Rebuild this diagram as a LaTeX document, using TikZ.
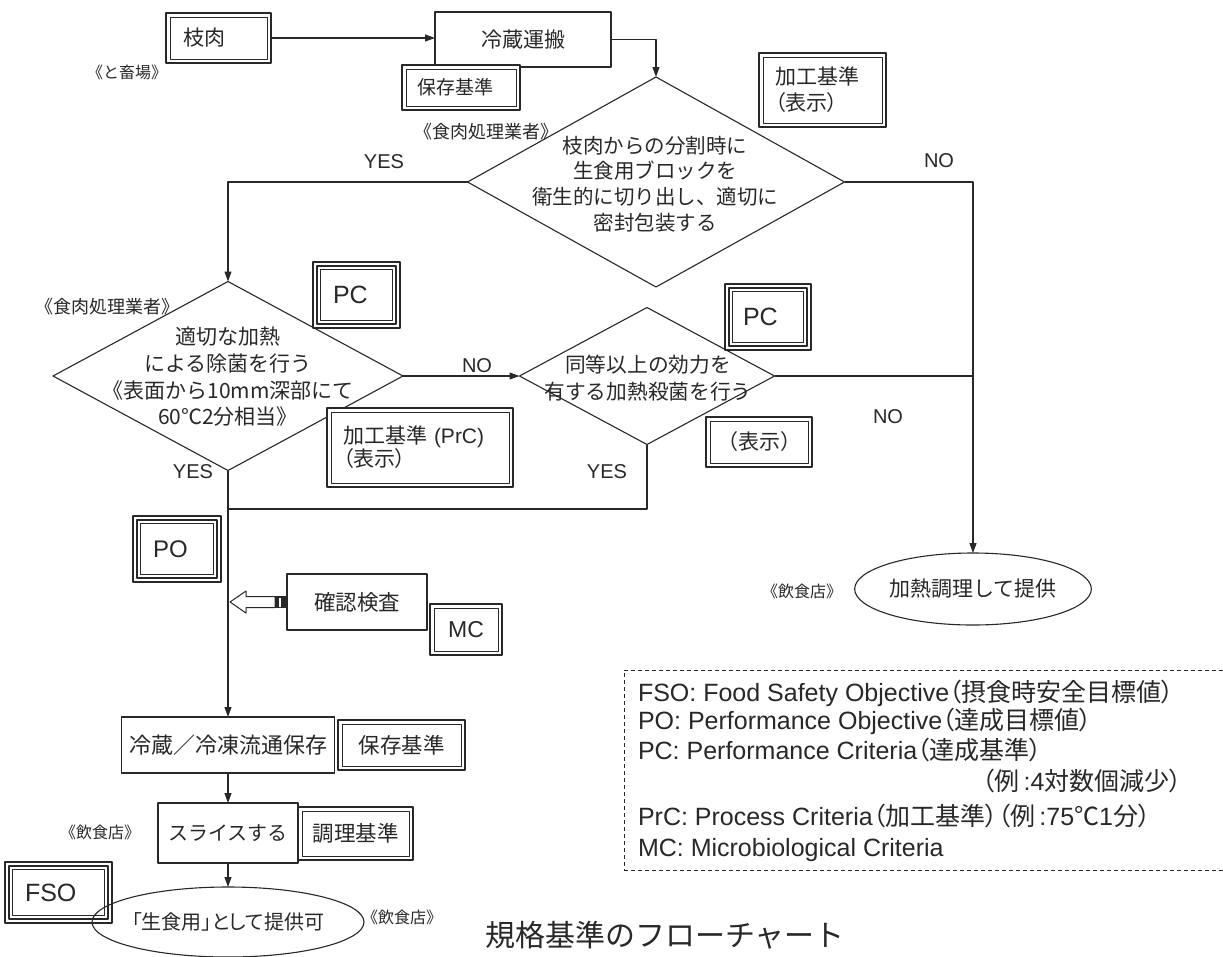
\documentclass[tikz,border=0pt]{standalone}
\usepackage{fontspec}
\setmainfont{Noto Sans CJK JP}
\newfontfamily\jpp{Noto Sans CJK JP}[RawFeature={+palt}]
\newfontfamily\lat{Liberation Sans}
\usetikzlibrary{shapes.geometric,arrows.meta,calc}
\definecolor{ink}{RGB}{40,40,40}
\newcommand{\fsz}[2]{\fontsize{#1pt}{#2pt}\selectfont}
\tikzset{
  every node/.style={text=ink},
  sbox/.style={draw=ink, line width=1.1pt, rectangle, inner sep=0pt, outer sep=0pt, fill=white, align=center},
  dbox/.style={draw=ink, line width=1.6pt, rectangle, inner sep=0pt, outer sep=0pt, fill=white, align=center,
    path picture={\draw[ink, line width=0.8pt] ([shift={(4pt,-4pt)}]path picture bounding box.north west) rectangle ([shift={(-4pt,4pt)}]path picture bounding box.south east);}},
  tbox/.style={draw=ink, line width=1.2pt, rectangle, inner sep=0pt, outer sep=0pt, fill=white, align=center,
    path picture={\draw[ink, line width=2.2pt] ([shift={(3.8pt,-3.8pt)}]path picture bounding box.north west) rectangle ([shift={(-3.8pt,3.8pt)}]path picture bounding box.south east);
                  \draw[ink, line width=0.8pt] ([shift={(7.5pt,-7.5pt)}]path picture bounding box.north west) rectangle ([shift={(-7.5pt,7.5pt)}]path picture bounding box.south east);}},
  dia/.style={draw=ink, line width=1.1pt, diamond, inner sep=0pt, outer sep=0pt},
  ell/.style={draw=ink, line width=1.1pt, ellipse, inner sep=0pt, outer sep=0pt},
  lbl/.style={inner sep=0pt, outer sep=0pt},
  place/.style={lbl, font=\fsz{16}{19}},
  conn/.style={draw=ink, line width=1.1pt},
  arr/.style={conn, -{Triangle[length=10pt,width=7pt]}},
  legline/.style={lbl, anchor=west, font=\jpp\fsz{25}{28}},
}
\begin{document}
\begin{tikzpicture}[x=1pt, y=-1pt, line join=round]
\useasboundingbox (0,0) rectangle (1223,956);
\clip (0,0) rectangle (1223,956);
\fill[white] (0,0) rectangle (1223,956);

% ---- top row
\node[dbox, minimum width=105pt, minimum height=50pt, inner xsep=17pt, text width=71pt, align=left, font=\fsz{21}{25}] (eda) at (218.5,38) {枝肉};
\node[place] (tochiku) at (127,72) {《と畜場》};
\node[sbox, minimum width=176pt, minimum height=55pt, font=\fsz{21}{25}] (reizo) at (523,39.5) {冷蔵運搬};
\node[dbox, minimum width=118pt, minimum height=45pt, inner xsep=15pt, text width=88pt, align=left, font=\fsz{19}{23}] (hozon1) at (461,87.5) {保存基準};
\node[dbox, minimum width=127pt, minimum height=74pt, inner xsep=16pt, text width=95pt, align=left, font=\fsz{21}{26}] (kako1) at (822.5,90) {加工基準\\{\jpp （表示）}};

% ---- top diamond
\node[lbl, font=\fsz{18}{21}] (shoku1) at (486,132) {《食肉処理業者》};
\node[dia, minimum width=377pt, minimum height=210pt] (d1) at (656,182) {};
\node[lbl, align=center, font=\fsz{20.5}{25.7}] (d1t) at (655,184) {枝肉からの分割時に\\生食用ブロックを\\衛生的に切り出し、適切に\\密封包装する};
\node[lbl, font=\lat\fsz{20}{24}] (yes1) at (384,162) {YES};
\node[lbl, font=\lat\fsz{20}{24}] (no1) at (939,161) {NO};

% ---- left diamond
\node[dia, minimum width=350pt, minimum height=189pt] (d2) at (228,376) {};
\node[lbl, align=center, font=\fsz{21}{26.7}] (d2t) at (228,377) {適切な加熱\\による除菌を行う\\《表面から10mm深部にて\\60℃2分相当》};
\node[lbl, font=\fsz{18}{21}] (shoku2) at (107,307) {《食肉処理業者》};
\node[tbox, minimum width=87pt, minimum height=66pt, inner xsep=20pt, text width=47pt, align=left, font=\lat\fsz{25}{28}] (pc1) at (356.5,295) {PC};
\node[lbl, font=\lat\fsz{20}{24}] (no2) at (477,366) {NO};
\node[lbl, font=\lat\fsz{20}{24}] (yes3) at (193,472) {YES};
\node[dbox, minimum width=186pt, minimum height=79pt, inner xsep=16pt, text width=154pt, align=left, font=\fsz{21}{23}] (kako2) at (420,447.5) {加工基準 {\lat (PrC)}\\{\jpp （表示）}};

% ---- right diamond
\node[dia, minimum width=255pt, minimum height=137pt] (d3) at (647,376) {};
\node[lbl, align=center, font=\fsz{20.7}{27}] (d3t) at (648,378.5) {同等以上の効力を\\有する加熱殺菌を行う};
\node[tbox, minimum width=86pt, minimum height=66pt, inner xsep=18pt, text width=50pt, align=left, font=\lat\fsz{25}{28}] (pc2) at (768,317) {PC};
\node[dbox, minimum width=106pt, minimum height=50pt, font=\fsz{21}{25}] (hyouji) at (759,442) {（表示）};
\node[lbl, font=\lat\fsz{20}{24}] (no3) at (888,417) {NO};
\node[lbl, font=\lat\fsz{20}{24}] (yes2) at (607,472) {YES};

% ---- lower left
\node[tbox, minimum width=88pt, minimum height=66pt, inner xsep=20pt, text width=48pt, align=left, font=\lat\fsz{24}{28}] (po) at (177,549) {PO};
\node[sbox, minimum width=140pt, minimum height=56pt, font=\fsz{21.5}{25}] (kakunin) at (357,602) {確認検査};
\node[dbox, minimum width=72pt, minimum height=51pt, font=\lat\fsz{23}{26}] (mc) at (466,629.5) {MC};
\node[sbox, minimum width=213pt, minimum height=56pt, font=\fsz{22}{25}] (reizo2) at (228,745) {冷蔵／冷凍流通保存};
\node[dbox, minimum width=127pt, minimum height=50pt, font=\fsz{21.5}{25}] (hozon2) at (401.5,745) {保存基準};
\node[sbox, minimum width=140pt, minimum height=60pt, font=\fsz{20}{25}] (slice) at (228,833) {スライスする};
\node[dbox, minimum width=115pt, minimum height=53pt, font=\fsz{21.5}{25}] (chouri) at (355.5,833.5) {調理基準};
\node[place] (inshoku1) at (100,832) {《飲食店》};
\node[tbox, minimum width=107pt, minimum height=61pt, inner xsep=20pt, text width=67pt, align=left, font=\lat\fsz{25}{28}] (fso) at (58.5,892.5) {FSO};
\node[ell, minimum width=248pt, minimum height=70pt, font=\jpp\fsz{20}{24}] (nama) at (228,922) {「生食用」として提供可};
\node[place] (inshoku2) at (402,917) {《飲食店》};

% ---- right side
\node[ell, minimum width=230pt, minimum height=72pt, font=\fsz{21}{25}] (kanetsu) at (973,589) {加熱調理して提供};
\node[place] (inshoku3) at (802,591) {《飲食店》};

% ---- legend
\node[draw=ink, dash pattern=on 4pt off 3pt, line width=0.9pt, minimum width=602pt, minimum height=200pt, inner sep=0pt] (legend) at (925,770) {};
\node[legline] (lg1) at (638,693) {{\lat FSO: Food Safety Objective}（摂食時安全目標値）};
\node[legline] (lg2) at (638,721) {{\lat PO: Performance Objective}（達成目標値）};
\node[legline] (lg3) at (638,750) {{\lat PC: Performance Criteria}（達成基準）};
\node[legline, anchor=east] (lg4) at (1182,781) {（例{\lat\,:4}対数個減少）};
\node[legline] (lg5) at (638,816) {{\lat PrC: Process Criteria}（加工基準）（例{\lat\,:75}℃{\lat 1}分）};
\node[legline] (lg6) at (638,850) {{\lat MC: Microbiological Criteria}};

% ---- title
\node[lbl, anchor=base, font=\fsz{30}{34}] (title) at (665,946) {規格基準のフローチャート};

% ---- connectors
\draw[arr] (eda.east) -- (eda.east -| reizo.west);
\draw[arr] (reizo.east) -| (d1.north);
\draw[arr] (d1.west) -| (d2.north);
\draw[arr] (d1.east) -| (kanetsu.north);
\draw[arr] (d2.east) -- (d3.west);
\draw[conn] (d3.east) -- (d3.east -| kanetsu.north);
\coordinate (j0) at (0,509);
\coordinate (join) at (d2.south |- j0);
\draw[conn] (d3.south) |- (join);
\draw[arr] (d2.south) -- (reizo2.north);
\draw[arr] (reizo2.south) -- (slice.north);
\draw[arr] (slice.south) -- (nama.north);

% hollow arrow from 確認検査 to the main line
\begin{scope}[shift={(kakunin.west)}]
  \draw[ink, line width=1pt, fill=white] (-57,0) -- (-41,-11) -- (-41,-5.5) -- (-12,-5.5) -- (-12,5.5) -- (-41,5.5) -- (-41,11) -- cycle;
  \fill[ink] (-12,-6) rectangle (0,6);
  \fill[white] (-8,-4.5) rectangle (-6,4.5);
\end{scope}
\end{tikzpicture}
\end{document}
